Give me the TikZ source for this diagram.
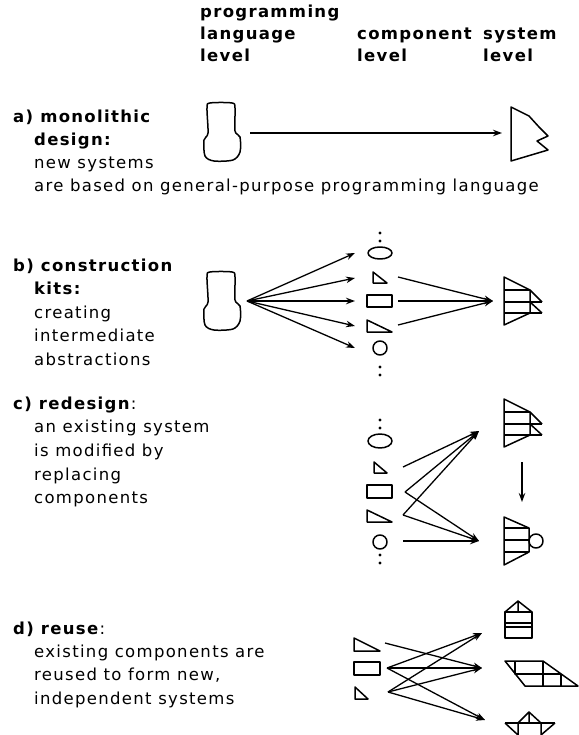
\documentclass[tikz,border=0pt]{standalone}
\usepackage{fontspec}
\setmainfont{DejaVu Sans}[LetterSpace=8]
\usetikzlibrary{arrows.meta}
\begin{document}
\begin{tikzpicture}[x=1pt,y=-1pt,
  txt/.style={anchor=base west, inner sep=0pt, font=\fontsize{16.5}{19}\selectfont},
  hd/.style={txt, font=\fontsize{16.5}{19}\selectfont\bfseries},
  shp/.style={line width=1.5pt, line join=round},
  conn/.style={line width=1.3pt, -{Stealth[length=9pt,width=6.5pt]}},
  dotc/.style={fill=black},
  blob/.pic={\draw[shp] plot[smooth cycle, tension=0.5] coordinates {(7,0) (29,0) (32,5) (32,28) (37,34) (37,49) (30,57) (11,58) (2,53) (1,37) (5,30) (4,5)};},
  sysbox/.pic={\draw[shp] (0,0) -- (26,13) -- (26,36) -- (0,48) -- cycle;
    \draw[shp] (0,13) -- (26,13) (0,25) -- (38,25) (0,36) -- (38,36);
    \draw[shp] (26,13) -- (38,25) (26,25) -- (38,36);},
  sysround/.pic={\draw[shp] (0,0) -- (25,11) -- (25,35) -- (0,48) -- cycle;
    \draw[shp] (0,11) -- (25,11) (0,23) -- (25,23) (0,35) -- (25,35);
    \draw[shp] (32,24) circle (7);}
]
\useasboundingbox (0,0) rectangle (578,735);
\fill[white] (0,0) rectangle (578,735);

% header
\node[hd] (h1) at (200,18) {programming};
\node[hd] (h2) at (200,40) {language};
\node[hd] (h3) at (200,62) {level};
\node[hd] (h4) at (357,40) {component};
\node[hd] (h5) at (357,62) {level};
\node[hd] (h6) at (483,40) {system};
\node[hd] (h7) at (483,62) {level};

% a) text
\node[hd] (ta1) at (13,123) {a) monolithic};
\node[hd] (ta2) at (34,146) {design:};
\node[txt] (ta3) at (34,169) {new systems};
\node[txt] (ta4) at (34,192) {are based on general-purpose programming language};

% b) text
\node[hd] (tb1) at (13,271) {b) construction};
\node[hd] (tb2) at (34,294) {kits:};
\node[txt] (tb3) at (34,318) {creating};
\node[txt] (tb4) at (34,341) {intermediate};
\node[txt] (tb5) at (34,365) {abstractions};

% c) text
\node[hd] (tc1) at (13,409) {c) redesign\textmd{:}};
\node[txt] (tc2) at (34,432) {an existing system};
\node[txt] (tc3) at (34,456) {is modified by};
\node[txt] (tc4) at (34,480) {replacing};
\node[txt] (tc5) at (34,503) {components};

% d) text
\node[hd] (td1) at (13,634) {d) reuse\textmd{:}};
\node[txt] (td2) at (34,657) {existing components are};
\node[txt] (td3) at (34,680) {reused to form new,};
\node[txt] (td4) at (34,704) {independent systems};

% ---------- a) graphics
\pic at (203,103) {blob};
\draw[shp] (511,107) -- (529,116) -- (539,127) -- (548,136) -- (537,141) -- (548,150) -- (511,161) -- cycle;
\coordinate (aS) at (250,133);
\coordinate (aE) at (502,133);
\draw[conn] (aS) -- (aE);

% ---------- b) graphics
\pic at (203,272) {blob};
\fill[dotc] (380,233) circle (1.7) (380,241) circle (1.7);
\draw[shp] (380,253) ellipse (12 and 6);
\draw[shp] (373,272) -- (373,283) -- (387,283) -- cycle;
\draw[shp] (367,295) rectangle (392,307);
\draw[shp] (367,320) -- (367,332) -- (392,332) -- cycle;
\draw[shp] (380,348) circle (7);
\fill[dotc] (380,367) circle (1.7) (380,375) circle (1.7);
\pic at (504,277) {sysbox};

\coordinate (bS) at (247,301);
\coordinate (bE1) at (355,253);
\coordinate (bE2) at (355,278);
\coordinate (bE3) at (355,301);
\coordinate (bE4) at (355,326);
\coordinate (bE5) at (355,348);
\foreach \e in {bE1,bE2,bE3,bE4,bE5} \draw[conn] (bS) -- (\e);
\coordinate (bR1) at (398,277);
\coordinate (bR2) at (398,301);
\coordinate (bR3) at (398,325);
\coordinate (bT) at (493,301);
\foreach \s in {bR1,bR2,bR3} \draw[conn] (\s) -- (bT);

% ---------- c) graphics
\fill[dotc] (380,420) circle (1.7) (380,428) circle (1.7);
\draw[shp] (380,441) ellipse (12 and 7);
\draw[shp] (374,462) -- (374,473) -- (387,473) -- cycle;
\draw[shp] (367,485) rectangle (392,498);
\draw[shp] (367,510) -- (367,522) -- (392,522) -- cycle;
\draw[shp] (380,542) circle (7);
\fill[dotc] (380,555) circle (1.7) (380,563) circle (1.7);
\pic at (504,399) {sysbox};
\pic at (504,517) {sysround};

\coordinate (cS1) at (403,467);
\coordinate (cS2) at (405,492);
\coordinate (cS3) at (403,515);
\coordinate (cS4) at (403,541);
\coordinate (cT) at (479,431);
\coordinate (cB) at (479,541);
\draw[conn] (cS1) -- (cT);
\draw[conn] (cS2) -- (cT);
\draw[conn] (cS2) -- (cB);
\draw[conn] (cS3) -- (cT);
\draw[conn] (cS3) -- (cB);
\draw[conn] (cS4) -- (cB);
\coordinate (cD1) at (522,462);
\coordinate (cD2) at (522,502);
\draw[conn] (cD1) -- (cD2);

% ---------- d) graphics
\draw[shp] (354,638) -- (354,651) -- (380,651) -- cycle;
\draw[shp] (354,662) rectangle (380,675);
\draw[shp] (355,687) -- (355,699) -- (368,699) -- cycle;
% house
\draw[shp] (505,612) -- (518,601) -- (532,612) (518,601) -- (518,612);
\draw[shp] (505,612) rectangle (532,638);
\draw[shp] (505,623) -- (532,623) (505,627) -- (532,627);
% skew row
\draw[shp] (505,661) -- (543,661) -- (578,686) -- (525,686) -- cycle;
\draw[shp] (515,661) -- (515,674) -- (561,674) (543,661) -- (543,686) (561,674) -- (561,686);
% boat
\draw[shp] (518,723) -- (529,712) -- (541,723) (529,712) -- (529,723);
\draw[shp] (505,723) -- (555,723);
\draw[shp] (505,723) -- (518,735) (518,723) -- (518,735);
\draw[shp] (555,723) -- (541,735) (541,723) -- (541,735);

\coordinate (dS1) at (385,643);
\coordinate (dS2) at (387,668);
\coordinate (dS3) at (388,692);
\coordinate (dT1) at (482,633);
\coordinate (dT2) at (482,668);
\coordinate (dT3) at (485,720);
\draw[conn] (dS1) -- (dT2);
\foreach \t in {dT1,dT2,dT3} {\draw[conn] (dS2) -- (\t); \draw[conn] (dS3) -- (\t);}
\end{tikzpicture}
\end{document}
